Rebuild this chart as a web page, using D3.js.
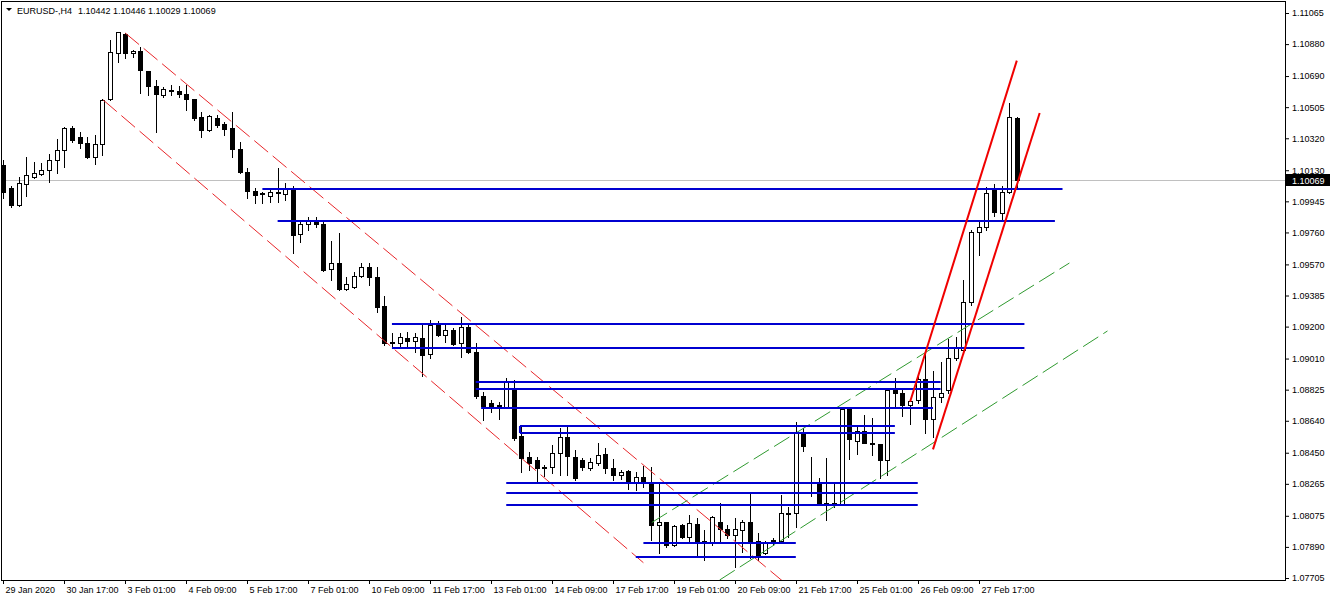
<!DOCTYPE html>
<html><head><meta charset="utf-8">
<script src="https://cdn.jsdelivr.net/npm/d3@7"></script>
<style>
body{margin:0;background:#fff;}
svg{display:block;}
text{font-family:"Liberation Sans",Arial,sans-serif;font-size:9px;fill:#000;}
</style>
</head><body><svg id="c" width="1332" height="601"></svg>
<script>
// ---------- DATA ----------
const symbol = "EURUSD-,H4";
const headerOHLC = "1.10442 1.10446 1.10029 1.10069";
const lastPrice = 1.10069;

const opens = [
1.10161,1.10024,1.09923,1.10048,1.10090,1.10108,1.10131,1.10191,1.10250,1.10381,
1.10328,1.10292,1.10209,1.10286,1.10554,1.10827,1.10940,1.10827,1.10839,1.10720,
1.10631,1.10577,1.10607,1.10601,1.10583,1.10554,1.10447,1.10369,1.10441,1.10405,
1.10381,1.10256,1.10119,1.10006,1.09995,1.09977,1.10000,1.09989,1.10018,1.09751,
1.09810,1.09828,1.09810,1.09543,1.09578,1.09424,1.09436,1.09501,1.09554,1.09495,
1.09323,1.09108,1.09102,1.09132,1.09114,1.09132,1.09037,1.09210,1.09150,1.09180,
1.09102,1.09198,1.09049,1.08787,1.08746,1.08734,1.08722,1.08823,1.08549,1.08425,
1.08407,1.08359,1.08365,1.08448,1.08543,1.08425,1.08407,1.08359,1.08389,1.08442,
1.08359,1.08318,1.08341,1.08270,1.08306,1.08270,1.08020,1.08038,1.07901,1.08020,
1.07949,1.08026,1.07925,1.07913,1.08038,1.07996,1.07961,1.07990,1.08038,1.07925,
1.07854,1.07925,1.07925,1.08092,1.08092,1.08567,1.08270,1.08276,1.08151,1.08151,
1.08145,1.08710,1.08520,1.08579,1.08508,1.08502,1.08407,1.08823,1.08805,1.08734,
1.08764,1.08888,1.08651,1.08781,1.08823,1.09013,1.09061,1.09346,1.09763,1.09792,
1.10012,1.09876,1.10000,1.10442];
const highs = [
1.10191,1.10036,1.10090,1.10209,1.10179,1.10173,1.10226,1.10316,1.10387,1.10393,
1.10357,1.10328,1.10340,1.10554,1.10904,1.10952,1.10946,1.10845,1.10863,1.10720,
1.10667,1.10625,1.10637,1.10631,1.10637,1.10554,1.10476,1.10458,1.10458,1.10417,
1.10476,1.10298,1.10143,1.10024,1.10000,1.10024,1.10143,1.10054,1.10036,1.09828,
1.09852,1.09852,1.09834,1.09709,1.09757,1.09495,1.09525,1.09578,1.09578,1.09554,
1.09382,1.09162,1.09162,1.09168,1.09162,1.09210,1.09239,1.09233,1.09210,1.09192,
1.09257,1.09210,1.09102,1.08811,1.08764,1.08752,1.08894,1.08882,1.08615,1.08454,
1.08425,1.08377,1.08496,1.08597,1.08615,1.08466,1.08419,1.08419,1.08508,1.08478,
1.08413,1.08347,1.08347,1.08335,1.08371,1.08365,1.08270,1.08038,1.08020,1.08026,
1.08080,1.08062,1.07990,1.08074,1.08151,1.08020,1.08062,1.08050,1.08210,1.07973,
1.07925,1.07943,1.08199,1.08127,1.08633,1.08597,1.08425,1.08300,1.08419,1.08276,
1.08716,1.08716,1.08603,1.08674,1.08656,1.08502,1.08835,1.08894,1.08835,1.08769,
1.08900,1.09043,1.08936,1.08990,1.09126,1.09138,1.09477,1.09775,1.09834,1.10030,
1.10048,1.10036,1.10530,1.10446];
const lows = [
1.09965,1.09911,1.09917,1.09977,1.10084,1.10102,1.10060,1.10113,1.10149,1.10298,
1.10262,1.10203,1.10167,1.10220,1.10548,1.10774,1.10797,1.10803,1.10589,1.10577,
1.10357,1.10565,1.10577,1.10565,1.10488,1.10429,1.10328,1.10363,1.10387,1.10340,
1.10209,1.10113,1.09965,1.09935,1.09935,1.09941,1.09941,1.09953,1.09638,1.09703,
1.09775,1.09792,1.09531,1.09477,1.09418,1.09418,1.09430,1.09495,1.09447,1.09287,
1.09091,1.09079,1.09079,1.09073,1.09049,1.08906,1.09013,1.09144,1.09108,1.09091,
1.09019,1.09043,1.08775,1.08645,1.08692,1.08651,1.08716,1.08526,1.08335,1.08347,
1.08270,1.08312,1.08329,1.08318,1.08318,1.08288,1.08347,1.08347,1.08377,1.08329,
1.08288,1.08294,1.08234,1.08228,1.08246,1.07931,1.07854,1.07889,1.07895,1.07943,
1.07913,1.07842,1.07812,1.07901,1.07913,1.07943,1.07770,1.07860,1.07824,1.07812,
1.07848,1.07901,1.07925,1.07949,1.08008,1.08460,1.08193,1.08139,1.08050,1.08127,
1.08139,1.08413,1.08442,1.08508,1.08436,1.08300,1.08318,1.08716,1.08668,1.08621,
1.08746,1.08567,1.08543,1.08752,1.08805,1.09001,1.09049,1.09328,1.09626,1.09775,
1.09858,1.09834,1.09995,1.10029];
const closes = [
1.10000,1.09923,1.10054,1.10102,1.10113,1.10131,1.10191,1.10250,1.10381,1.10310,
1.10292,1.10209,1.10286,1.10548,1.10833,1.10952,1.10827,1.10839,1.10726,1.10631,
1.10583,1.10613,1.10601,1.10583,1.10554,1.10441,1.10369,1.10452,1.10399,1.10375,
1.10256,1.10119,1.10006,1.09983,1.09989,1.10000,1.09995,1.10018,1.09745,1.09810,
1.09828,1.09810,1.09537,1.09578,1.09424,1.09453,1.09501,1.09554,1.09495,1.09317,
1.09102,1.09102,1.09138,1.09114,1.09138,1.09031,1.09210,1.09150,1.09180,1.09097,
1.09198,1.09049,1.08787,1.08728,1.08728,1.08722,1.08871,1.08537,1.08419,1.08389,
1.08359,1.08365,1.08448,1.08543,1.08430,1.08300,1.08365,1.08395,1.08436,1.08359,
1.08318,1.08335,1.08270,1.08306,1.08270,1.08020,1.08038,1.07901,1.08014,1.07949,
1.08032,1.07919,1.07913,1.08068,1.07996,1.07961,1.07996,1.08038,1.07919,1.07830,
1.07919,1.07931,1.08092,1.08086,1.08573,1.08490,1.08276,1.08139,1.08145,1.08139,
1.08710,1.08532,1.08579,1.08508,1.08502,1.08407,1.08823,1.08805,1.08734,1.08758,
1.08888,1.08651,1.08781,1.08805,1.09013,1.09073,1.09346,1.09763,1.09792,1.09995,
1.09882,1.10000,1.10447,1.10069];

const timeLabels = ["29 Jan 2020","30 Jan 17:00","3 Feb 01:00","4 Feb 09:00","5 Feb 17:00",
"7 Feb 01:00","10 Feb 09:00","11 Feb 17:00","13 Feb 01:00","14 Feb 09:00","17 Feb 17:00",
"19 Feb 01:00","20 Feb 09:00","21 Feb 17:00","25 Feb 01:00","26 Feb 09:00","27 Feb 17:00"];
const timeLabelBars = [0,8,16,24,32,40,48,56,64,72,80,88,96,104,112,120,128];

const priceTicks = [1.11065,1.10880,1.10690,1.10505,1.10320,1.10130,1.09945,1.09760,1.09570,
1.09385,1.09200,1.09010,1.08825,1.08640,1.08450,1.08265,1.08075,1.07890,1.07705];

// horizontal levels (price, from bar, to bar)
const levelPrices = [1.10018,1.09831,1.09213,1.09071,1.08870,1.08827,1.08714,1.08611,1.08570,1.08268,1.08212,1.08139,1.07911,1.07832];
const levelFrom   = [34,36,51,51,62,62,62.7,67.8,67.8,66,66,66,84,83];
const levelTo     = [139,138,134,134,123,123,122,117,117,120,120,120,104,104];
const levelLinks  = [[67.8,1.08611,1.08570]];

// trend lines: [bar1, price1, bar2, price2]
const redDashed   = [[16,1.10946,102.5,1.07678],[13.1,1.10548,84,1.07796]];
const greenDashed = [[85.1,1.08035,139.9,1.09578],[94.0,1.07693,144.9,1.09174]];
const redSolid    = [[119,1.08753,133,1.10782],[122,1.08470,136,1.10470]];

// ---------- DRAW ----------
const W=1332,H=601;
const P={left:1.5,top:1.5,right:1285.5,bottom:580.5};
const x=d3.scaleLinear().domain([0,133]).range([3.3,1016.8]);
const y=d3.scaleLinear().domain([1.07705,1.11065]).range([578,13]);
const svg=d3.select("#c");
svg.append("rect").attr("width",W).attr("height",H).attr("fill","#fff");
svg.append("defs").append("clipPath").attr("id","clip").append("rect")
  .attr("x",P.left).attr("y",P.top).attr("width",P.right-P.left).attr("height",P.bottom-P.top);
const g=svg.append("g").attr("clip-path","url(#clip)");

// current price line
const yl=Math.round(y(lastPrice))+0.5;
g.append("line").attr("x1",P.left).attr("x2",P.right).attr("y1",yl).attr("y2",yl)
  .attr("stroke","#c0c0c0").attr("stroke-width",1);

// candles
const bars=d3.range(opens.length).map(i=>({i,o:opens[i],h:highs[i],l:lows[i],c:closes[i]}));
const cg=g.append("g");
bars.forEach(b=>{
  const cx=Math.round(x(b.i));
  cg.append("line").attr("x1",cx+0.5).attr("x2",cx+0.5)
    .attr("y1",Math.round(y(b.h))).attr("y2",Math.round(y(b.l))+1)
    .attr("stroke","#000").attr("stroke-width",1);
  const top=Math.round(y(Math.max(b.o,b.c))), bot=Math.round(y(Math.min(b.o,b.c)));
  if(bot-top<1){
    cg.append("line").attr("x1",cx-2).attr("x2",cx+3).attr("y1",top+0.5).attr("y2",top+0.5)
      .attr("stroke","#000").attr("stroke-width",1);
  } else if(b.c>b.o){
    cg.append("rect").attr("x",cx-1.5).attr("y",top+0.5).attr("width",4).attr("height",bot-top)
      .attr("fill","#fff").attr("stroke","#000").attr("stroke-width",1);
  } else {
    cg.append("rect").attr("x",cx-2).attr("y",top).attr("width",5).attr("height",bot-top+1)
      .attr("fill","#000");
  }
});

// trend lines
function trend(arr,color,width,dash){
  g.append("g").selectAll("line").data(arr).join("line")
    .attr("x1",d=>x(d[0])).attr("y1",d=>y(d[1])).attr("x2",d=>x(d[2])).attr("y2",d=>y(d[3]))
    .attr("stroke",color).attr("stroke-width",width).attr("stroke-dasharray",dash||null);
}
trend(redDashed,"#e8262a",1,"18,6");
trend(greenDashed,"#2f9a2f",1,"18,6");

// horizontal levels
g.append("g").selectAll("line").data(levelPrices).join("line")
  .attr("x1",(d,i)=>x(levelFrom[i])).attr("x2",(d,i)=>x(levelTo[i]))
  .attr("y1",d=>Math.round(y(d))).attr("y2",d=>Math.round(y(d)))
  .attr("stroke","#0000d0").attr("stroke-width",2);
g.append("g").selectAll("line").data(levelLinks).join("line")
  .attr("x1",d=>x(d[0])).attr("x2",d=>x(d[0]))
  .attr("y1",d=>Math.round(y(d[1]))).attr("y2",d=>Math.round(y(d[2])))
  .attr("stroke","#0000d0").attr("stroke-width",2);

trend(redSolid,"#f00000",2);

// frame
svg.append("rect").attr("x",P.left).attr("y",P.top).attr("width",P.right-P.left).attr("height",P.bottom-P.top)
  .attr("fill","none").attr("stroke","#000").attr("stroke-width",1);

// price axis
const ya=svg.append("g").attr("transform","translate(1285,0)")
  .call(d3.axisRight(y).tickValues(priceTicks).tickSize(4).tickPadding(3).tickFormat(d3.format(".5f")));
ya.select(".domain").remove();
ya.selectAll("text").style("font-family","'Liberation Sans',Arial,sans-serif").style("font-size","9px").attr("fill","#000");
ya.selectAll("line").attr("stroke","#000");

// last price tag
svg.append("rect").attr("x",1286).attr("y",Math.round(y(lastPrice))-6).attr("width",44).attr("height",12).attr("fill","#000");
svg.append("text").attr("x",1292).attr("y",y(lastPrice)).attr("dy","0.35em").style("fill","#fff").text(d3.format(".5f")(lastPrice));

// time axis
const xa=svg.append("g").attr("transform","translate(0,580)")
  .call(d3.axisBottom(x).tickValues(timeLabelBars).tickSize(4).tickPadding(3)
    .tickFormat((d,i)=>timeLabels[i]));
xa.select(".domain").remove();
xa.selectAll(".tick").attr("transform",d=>`translate(${Math.round(x(d))+0.5},0)`);
xa.selectAll("text").attr("text-anchor","start").attr("x",2)
  .style("font-family","'Liberation Sans',Arial,sans-serif").style("font-size","9px").attr("fill","#000");
xa.selectAll("line").attr("stroke","#000");

// header
svg.append("path").attr("d","M6,8L12,8L9,11Z").attr("fill","#000");
svg.append("text").attr("x",17).attr("y",14).text(symbol);
svg.append("text").attr("x",78).attr("y",14).text(headerOHLC);
</script>
</body></html>
